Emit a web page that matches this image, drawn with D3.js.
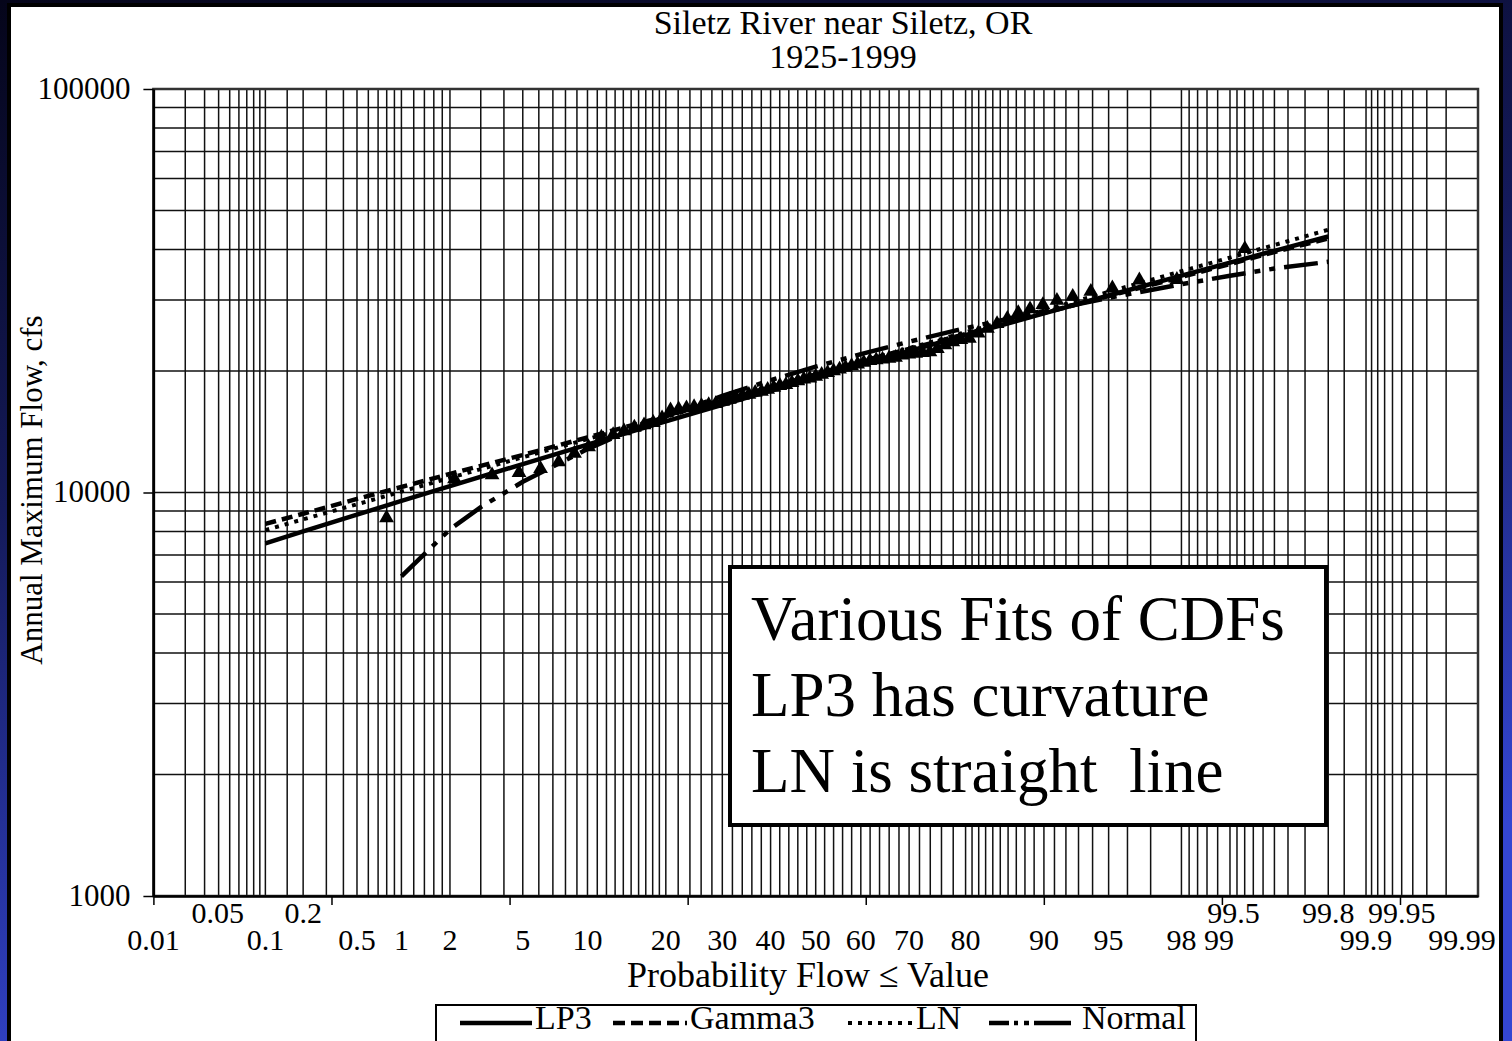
<!doctype html>
<html>
<head>
  <title>Siletz River near Siletz, OR - Various Fits of CDFs</title>
  <meta charset="UTF-8">
  <script src="https://d3js.org/d3.v7.min.js"></script>
  <style>
    body { margin: 0; background: #000; overflow: hidden; }
    text { font-family: "Liberation Serif", "Times New Roman", serif; fill: #000; }
  </style>
</head>
<body>
<div id="svg_area"></div>
<script>

// ---- data ----
// observed annual peaks 1925-1999 (cfs), sorted low to high
var obsFlow = [8650, 10800, 11050, 11200, 11450, 11900, 12500, 12970, 13700, 13900,
  14200, 14500, 14700, 14900, 15300, 16000, 16100, 16200, 16300, 16400,
  16500, 16600, 16800, 17000, 17200, 17400, 17500, 17700, 17800, 18000,
  18200, 18400, 18500, 18700, 18900, 19100, 19200, 19400, 19600, 19800,
  20000, 20200, 20400, 20600, 20800, 21000, 21200, 21300, 21400, 21500,
  21600, 21900, 22000, 22100, 22200, 22300, 22700, 23200, 23600, 23900,
  24100, 24800, 25500, 26200, 27000, 27900, 28500, 29200, 29900, 30600,
  31500, 32100, 33600, 33700, 40200];

// fitted curves, probability in percent
var fitProbs = [0.1, 0.2, 0.5, 1, 2, 5, 10, 20, 30, 40, 50, 60, 70, 80, 90, 95, 98, 99, 99.5, 99.8];
var lp3    = [7480, 8010, 8810, 9530, 10370, 11760, 13140, 15010, 16490, 17870, 19250, 20720, 22410, 24540, 27800, 30780, 34460, 37120, 39720, 43090];
var gamma3 = [8360, 8860, 9640, 10320, 11120, 12390, 13690, 15480, 16960, 18200, 19610, 21120, 22680, 24710, 27860, 30690, 34210, 36840, 39450, 42610];
var lnFit  = [8070, 8580, 9350, 10050, 10870, 12230, 13560, 15400, 16860, 18220, 19600, 21080, 22790, 24950, 28320, 31420, 35340, 38210, 41060, 44780];

var normalProbs = [1, 2, 3, 5, 7, 10, 15, 20, 30, 40, 50, 60, 70, 80, 90, 95, 98, 99, 99.5, 99.8];
var normalFit   = [6200, 8100, 9200, 10630, 11600, 12810, 14300, 15450, 17350, 18980, 20500, 22020, 23650, 25550, 28190, 30370, 32820, 34460, 35900, 37300];

// probability paper grid and labels
var gridProbs = [0.01, 0.02, 0.03, 0.04, 0.05, 0.06, 0.07, 0.08, 0.09,
  0.1, 0.15, 0.2, 0.3, 0.4, 0.5, 0.6, 0.7, 0.8, 0.9,
  1, 1.2, 1.4, 1.6, 1.8, 2, 3, 4, 5, 6, 7, 8, 9, 10,
  11, 12, 13, 14, 15, 16, 17, 18, 19, 20,
  22, 24, 26, 28, 30, 32, 34, 36, 38, 40, 42, 44, 46, 48, 50,
  52, 54, 56, 58, 60, 62, 64, 66, 68, 70, 72, 74, 76, 78, 80,
  81, 82, 83, 84, 85, 86, 87, 88, 89, 90,
  91, 92, 93, 94, 95, 96, 97, 98, 98.2, 98.4, 98.6, 98.8, 99,
  99.1, 99.2, 99.3, 99.4, 99.5, 99.6, 99.7, 99.8, 99.85, 99.9,
  99.91, 99.92, 99.93, 99.94, 99.95, 99.96, 99.97, 99.98, 99.99];
var lowLabels = [0.01, 0.1, 0.5, 1, 2, 5, 10, 20, 30, 40, 50, 60, 70, 80, 90, 95, 98, 99, 99.9, 99.99];
var highLabels = [0.05, 0.2, 99.5, 99.8, 99.95];
var flowGrid = [1000, 2000, 3000, 4000, 5000, 6000, 7000, 8000, 9000,
  10000, 20000, 30000, 40000, 50000, 60000, 70000, 80000, 90000, 100000];
var flowLabels = [1000, 10000, 100000];

var seriesNames = ["LP3", "Gamma3", "LN", "Normal"];

// inverse standard normal (Acklam)
function probit(p) {
  var a = [-3.969683028665376e+01, 2.209460984245205e+02, -2.759285104469687e+02, 1.383577518672690e+02, -3.066479806614716e+01, 2.506628277459239e+00];
  var b = [-5.447609879822406e+01, 1.615858368580409e+02, -1.556989798598866e+02, 6.680131188771972e+01, -1.328068155288572e+01];
  var c = [-7.784894002430293e-03, -3.223964580411365e-01, -2.400758277161838e+00, -2.549732539343734e+00, 4.374664141464968e+00, 2.938163982698783e+00];
  var d = [7.784695709041462e-03, 3.224671290700398e-01, 2.445134137142996e+00, 3.754408661907416e+00];
  var q, r;
  if (p < 0.02425) {
    q = Math.sqrt(-2 * Math.log(p));
    return (((((c[0]*q+c[1])*q+c[2])*q+c[3])*q+c[4])*q+c[5]) / ((((d[0]*q+d[1])*q+d[2])*q+d[3])*q+1);
  }
  if (p <= 1 - 0.02425) {
    q = p - 0.5; r = q * q;
    return (((((a[0]*r+a[1])*r+a[2])*r+a[3])*r+a[4])*r+a[5])*q / (((((b[0]*r+b[1])*r+b[2])*r+b[3])*r+b[4])*r+1);
  }
  q = Math.sqrt(-2 * Math.log(1 - p));
  return -(((((c[0]*q+c[1])*q+c[2])*q+c[3])*q+c[4])*q+c[5]) / ((((d[0]*q+d[1])*q+d[2])*q+d[3])*q+1);
}

// ---- layout ----
var W = 1512, H = 1041;
var plotLeft = 153.4, plotRight = 1478, plotTop = 89, plotBottom = 896;

var zMin = probit(0.0001), zMax = probit(0.9999);
var zScale = d3.scaleLinear().domain([zMin, zMax]).range([plotLeft, plotRight]);
function xp(pct) { return zScale(probit(pct / 100)); }
var yScale = d3.scaleLog().domain([1000, 100000]).range([plotBottom, plotTop]);

var svg = d3.select("#svg_area").append("svg")
  .attr("width", W).attr("height", H);

// slide background
var defs = svg.append("defs");
var grad = defs.append("linearGradient").attr("id", "bg")
  .attr("x1", 0).attr("y1", 0).attr("x2", 0.3).attr("y2", 1);
grad.append("stop").attr("offset", "0%").attr("stop-color", "#05051a");
grad.append("stop").attr("offset", "45%").attr("stop-color", "#141a5a");
grad.append("stop").attr("offset", "100%").attr("stop-color", "#3446d2");
svg.append("rect").attr("width", W).attr("height", H).attr("fill", "url(#bg)");

// white picture with black frame
svg.append("rect")
  .attr("x", 9).attr("y", 5).attr("width", 1492).attr("height", 1080)
  .attr("fill", "#fff").attr("stroke", "#000").attr("stroke-width", 4);

// titles
svg.append("text").attr("x", 843).attr("y", 34).attr("text-anchor", "middle")
  .attr("font-size", "34px").text("Siletz River near Siletz, OR");
svg.append("text").attr("x", 843).attr("y", 68).attr("text-anchor", "middle")
  .attr("font-size", "34px").text("1925-1999");

// grid
var grid = svg.append("g").attr("stroke", "#111").attr("stroke-width", 1.5);
grid.selectAll("line.v").data(gridProbs).enter().append("line")
  .attr("x1", function (d) { return xp(d); }).attr("x2", function (d) { return xp(d); })
  .attr("y1", plotTop).attr("y2", plotBottom);
grid.selectAll("line.h").data(flowGrid).enter().append("line")
  .attr("x1", plotLeft).attr("x2", plotRight)
  .attr("y1", function (d) { return yScale(d); }).attr("y2", function (d) { return yScale(d); });

// plot frame
svg.append("rect").attr("x", plotLeft).attr("y", plotTop)
  .attr("width", plotRight - plotLeft).attr("height", plotBottom - plotTop)
  .attr("fill", "none").attr("stroke", "#333").attr("stroke-width", 2.5);

// y axis
var yAxis = d3.axisLeft(yScale).tickValues(flowLabels).tickSize(10).tickSizeOuter(0)
  .tickFormat(d3.format("d"));
var gy = svg.append("g").attr("transform", "translate(" + plotLeft + ",0)").call(yAxis);
gy.select(".domain").attr("stroke", "#000").attr("stroke-width", 2.5);
gy.selectAll(".tick line").attr("stroke", "#000").attr("stroke-width", 1.5);
gy.selectAll(".tick text").attr("x", -23).attr("dy", "0.3em")
  .attr("font-size", "31px").attr("font-family", "Liberation Serif").attr("fill", "#000");

// x axis: unit ticks in z starting at the left edge (spreadsheet style)
var zTicks = d3.range(zMin, zMax + 0.01, 1);
var xAxis = d3.axisBottom(zScale).tickValues(zTicks).tickSize(9).tickSizeOuter(0).tickFormat("");
var gx = svg.append("g").attr("transform", "translate(0," + plotBottom + ")").call(xAxis);
gx.select(".domain").attr("stroke", "#000").attr("stroke-width", 2.5);
gx.selectAll(".tick line").attr("stroke", "#000").attr("stroke-width", 1.5);

// probability labels (a few were shifted on the original)
var nudge = { "0.05": -12, "99": -11, "99.5": -41, "99.99": -16 };
svg.selectAll("text.low").data(lowLabels).enter().append("text")
  .attr("x", function (d) { return xp(d) + (nudge[d] || 0); })
  .attr("y", 950).attr("text-anchor", "middle").attr("font-size", "30px")
  .text(function (d) { return d; });
svg.selectAll("text.high").data(highLabels).enter().append("text")
  .attr("x", function (d) { return xp(d) + (nudge[d] || 0); })
  .attr("y", 923).attr("text-anchor", "middle").attr("font-size", "30px")
  .text(function (d) { return d; });

// axis titles
svg.append("text").attr("x", 808).attr("y", 987).attr("text-anchor", "middle")
  .attr("font-size", "36px").text("Probability Flow \u2264 Value");
svg.append("text").attr("transform", "translate(42,490) rotate(-90)")
  .attr("text-anchor", "middle").attr("font-size", "31px").text("Annual Maximum Flow, cfs");

// fitted lines
var styles = {
  LP3:    { dash: null,           legendDash: null,                  width: 4.5 },
  Gamma3: { dash: "11,6",         legendDash: "12,6",                width: 4.5 },
  LN:     { dash: "4,6",          legendDash: "4,6",                 width: 4 },
  Normal: { dash: "34,9,6,9,6,9", legendDash: "20,5,4,6,5,5,60",     width: 4.5 }
};
var curves = [
  { name: "Normal", probs: normalProbs, vals: normalFit },
  { name: "LN", probs: fitProbs, vals: lnFit },
  { name: "Gamma3", probs: fitProbs, vals: gamma3 },
  { name: "LP3", probs: fitProbs, vals: lp3 }
];
var line = d3.line()
  .x(function (d) { return xp(d[0]); })
  .y(function (d) { return yScale(d[1]); });
curves.forEach(function (c) {
  svg.append("path")
    .attr("d", line(d3.zip(c.probs, c.vals)))
    .attr("fill", "none").attr("stroke", "#000")
    .attr("stroke-width", styles[c.name].width)
    .attr("stroke-dasharray", styles[c.name].dash);
});

// observed points, Cunnane plotting position
var n = obsFlow.length;
svg.selectAll("path.obs").data(obsFlow).enter().append("path")
  .attr("d", d3.symbol().type(d3.symbolTriangle).size(95))
  .attr("transform", function (d, i) {
    var p = 100 * (i + 1 - 0.4) / (n + 0.2);
    return "translate(" + xp(p) + "," + yScale(d) + ")";
  })
  .attr("fill", "#000");

// annotation box
svg.append("rect").attr("x", 730).attr("y", 567).attr("width", 596).attr("height", 258)
  .attr("fill", "#fff").attr("stroke", "#000").attr("stroke-width", 4);
var notes = ["Various Fits of CDFs", "LP3 has curvature", "LN is straight  line"];
svg.selectAll("text.note").data(notes).enter().append("text")
  .attr("x", 751).attr("y", function (d, i) { return 640 + i * 76; })
  .attr("font-size", "63px").style("white-space", "pre")
  .text(function (d) { return d; });

// legend
var lg = svg.append("g");
lg.append("rect").attr("x", 436).attr("y", 1005).attr("width", 760).attr("height", 60)
  .attr("fill", "#fff").attr("stroke", "#000").attr("stroke-width", 2);
var legendX = [460, 613, 848, 989];
var legendLen = [72, 74, 65, 82];
seriesNames.forEach(function (s, i) {
  lg.append("line").attr("x1", legendX[i]).attr("x2", legendX[i] + legendLen[i])
    .attr("y1", 1023).attr("y2", 1023)
    .attr("stroke", "#000").attr("stroke-width", styles[s].width)
    .attr("stroke-dasharray", styles[s].legendDash);
  lg.append("text").attr("x", legendX[i] + legendLen[i] + (s === "Normal" ? 11 : 3))
    .attr("y", 1029).attr("font-size", "34px").text(s);
});

</script>
</body>
</html>
